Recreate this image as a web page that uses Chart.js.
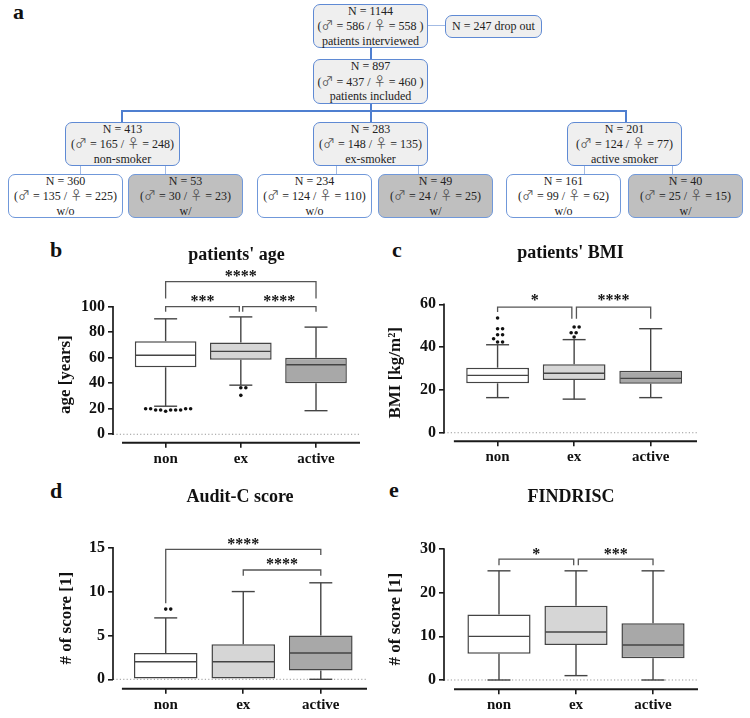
<!DOCTYPE html>
<html>
<head>
<meta charset="utf-8">
<title>smoking status</title>
<script src="https://cdn.jsdelivr.net/npm/chart.js@4.4.1/dist/chart.umd.min.js"></script>
<style>
body{margin:0;background:#fff;}
#fig{position:relative;width:750px;height:718px;font-family:"Liberation Serif","Times New Roman",serif;color:#222;overflow:hidden;}
.box{position:absolute;box-sizing:border-box;border:1.3px solid #5f8ad4;border-radius:7px;background:#efefef;display:flex;flex-direction:column;justify-content:center;align-items:center;font-size:12px;line-height:14.5px;text-align:center;white-space:nowrap;}
.box.wo{background:#fff;border-color:#7098da;}
.box.w{background:#bfbfbf;border-color:#7098da;}
.sym{font-family:"Noto Sans CJK SC",sans-serif;font-size:12px;color:#555;}
.ln{position:absolute;background:#4f7fd0;}
.lt{position:absolute;background:#a3bbe4;}
.lab{position:absolute;font-weight:bold;font-size:22px;line-height:22px;color:#111;}
canvas{position:absolute;}
</style>
</head>
<body>
<div id="fig">
  <div class="lab" style="left:13px;top:1px">a</div>
  <div class="lab" style="left:50px;top:239px">b</div>
  <div class="lab" style="left:392px;top:239px">c</div>
  <div class="lab" style="left:50px;top:480px">d</div>
  <div class="lab" style="left:389px;top:479px">e</div>
  <canvas id="chart-b" width="375" height="240" style="left:0;top:230px;width:375px;height:240px"></canvas>
  <canvas id="chart-c" width="375" height="240" style="left:375px;top:230px;width:375px;height:240px"></canvas>
  <canvas id="chart-d" width="375" height="248" style="left:0;top:470px;width:375px;height:248px"></canvas>
  <canvas id="chart-e" width="375" height="248" style="left:375px;top:470px;width:375px;height:248px"></canvas>
</div>
<script>
// flow chart numbers
var groupNames = ["non-smoker", "ex-smoker", "active smoker"];
var groupN = [413, 283, 201];
var groupMale = [165, 148, 124];
var groupFemale = [248, 135, 77];
var withoutN = [360, 234, 161];
var withoutMale = [135, 124, 99];
var withoutFemale = [225, 110, 62];
var withN = [53, 49, 40];
var withMale = [30, 24, 25];
var withFemale = [23, 25, 15];

// box plots
var categories = ["non", "ex", "active"];

var ageTicks = [0, 20, 40, 60, 80, 100];
var ageMin = [22, 38.5, 18.5];
var ageQ1 = [52.5, 58.5, 40];
var ageMedian = [62, 65, 54.5];
var ageQ3 = [73, 72, 60];
var ageMax = [90.5, 92, 84];
var ageOutliers = [[20, 20, 19, 20, 19, 20, 19, 19, 18, 19], [36.5, 36.5, 30.5], []];

var bmiTicks = [0, 20, 40, 60];
var bmiMin = [16.4, 15.7, 16.4];
var bmiQ1 = [23.1, 24.6, 22.9];
var bmiMedian = [26.8, 27.8, 25.4];
var bmiQ3 = [30.4, 32, 29];
var bmiMax = [41.1, 43.5, 48.6];
var bmiOutliers = [[53.6, 48.6, 48.6, 45.8, 45.8, 43.9, 42.4, 42.4], [49.4, 49.4, 46.7, 46.7, 44.7], []];

var auditTicks = [0, 5, 10, 15];
var auditMin = [0, 0, 0];
var auditQ1 = [0, 0, 1];
var auditMedian = [2, 2, 3];
var auditQ3 = [3, 4, 5];
var auditMax = [7, 10, 11];
var auditOutliers = [[8, 8], [], []];

var findTicks = [0, 10, 20, 30];
var findMin = [0, 1, 0];
var findQ1 = [6, 8, 5];
var findMedian = [10, 11, 8];
var findQ3 = [15, 17, 13];
var findMax = [25, 25, 25];
var findOutliers = [[], [], []];

var boxFill = ["#ffffff", "#d6d6d6", "#a8a8a8"];

// ---------- flow chart ----------
var fig = document.getElementById("fig");
function sex(m, f, sp) {
  return "(<span class='sym'>\u2642</span> = " + m + " / <span class='sym'>\u2640</span> = " + f + (sp ? " )" : ")");
}
function addBox(x, y, w, h, cls, lines) {
  var d = document.createElement("div");
  d.className = "box " + cls;
  d.style.cssText = "left:" + x + "px;top:" + y + "px;width:" + w + "px;height:" + h + "px";
  d.innerHTML = lines.map(function (t) { return "<div>" + t + "</div>"; }).join("");
  fig.appendChild(d);
}
function addLine(cls, x, y, w, h) {
  var d = document.createElement("div");
  d.className = cls;
  d.style.cssText = "left:" + x + "px;top:" + y + "px;width:" + w + "px;height:" + h + "px";
  fig.appendChild(d);
}

addLine("lt", 428, 25, 17, 1.4);
addLine("ln", 369.5, 48, 2, 11);
addLine("ln", 369.5, 104, 2, 18);
addLine("ln", 121, 110, 506, 2);
addLine("ln", 121, 110, 2, 12);
addLine("ln", 625, 110, 2, 12);
addBox(313, 4, 115, 44, "", ["N = 1144", sex(586, 558, true), "patients interviewed"]);
addBox(445, 15, 97, 23, "", ["N = 247 drop out"]);
addBox(313, 59, 115, 45, "", ["N = 897", sex(437, 460, true), "patients included"]);

var groupX = [65, 313, 567];
var woX = [8, 257, 506];
var wX = [128, 378, 628];
var linkX = [[80, 165], [336, 418], [584, 672]];
for (var i = 0; i < 3; i++) {
  addLine("lt", linkX[i][0], 166, 1.2, 8);
  addLine("lt", linkX[i][1], 166, 1.2, 8);
  addBox(groupX[i], 122, 115, 44, "", ["N = " + groupN[i], sex(groupMale[i], groupFemale[i]), groupNames[i]]);
  addBox(woX[i], 174, 115, 44, "wo", ["N = " + withoutN[i], sex(withoutMale[i], withoutFemale[i]), "w/o"]);
  addBox(wX[i], 174, 115, 44, "w", ["N = " + withN[i], sex(withMale[i], withFemale[i]), "w/"]);
}

// ---------- box plots ----------
Chart.defaults.font.family = '"Liberation Serif", "Times New Roman", serif';
Chart.defaults.color = "#111";

function swarm(pys, r) {
  var order = pys.map(function (v, i) { return i; }).sort(function (a, b) { return pys[b] - pys[a]; });
  var placed = [], dx = [];
  order.forEach(function (i) {
    for (var k = 0; k < 80; k++) {
      var off = (k % 2 ? 1 : -1) * Math.ceil(k / 2) * 1.0;
      var ok = placed.every(function (q) {
        var ddx = q.x - off, ddy = q.y - pys[i];
        return Math.sqrt(ddx * ddx + ddy * ddy) >= 2 * r + 0.9;
      });
      if (ok) { dx[i] = off; placed.push({ x: off, y: pys[i] }); break; }
    }
  });
  return dx;
}

function boxPlugin(p) {
  function seg(ctx, x1, y1, x2, y2) { ctx.beginPath(); ctx.moveTo(x1, y1); ctx.lineTo(x2, y2); ctx.stroke(); }
  return {
    id: "boxplot",
    beforeDatasetsDraw: function (chart) {
      var ctx = chart.ctx, a = chart.chartArea, y = chart.scales.y;
      var y0 = y.getPixelForValue(0);
      ctx.save();
      ctx.strokeStyle = "#999";
      ctx.lineWidth = 1;
      ctx.setLineDash([1.2, 2.2]);
      seg(ctx, a.left, y0, a.right, y0);
      ctx.restore();
    },
    afterDatasetsDraw: function (chart) {
      var ctx = chart.ctx, x = chart.scales.x, y = chart.scales.y;
      var bars = chart.getDatasetMeta(0).data;
      ctx.save();
      ctx.strokeStyle = "#444";
      ctx.lineWidth = 1.4;
      categories.forEach(function (c, i) {
        var cx = x.getPixelForValue(i), half = bars[i].width / 2;
        var top = y.getPixelForValue(p.max[i]), q3 = y.getPixelForValue(p.q3[i]);
        var q1 = y.getPixelForValue(p.q1[i]), bot = y.getPixelForValue(p.min[i]);
        seg(ctx, cx, q3, cx, top);
        seg(ctx, cx - 11.5, top, cx + 11.5, top);
        if (p.min[i] < p.q1[i]) {
          seg(ctx, cx, q1, cx, bot);
          seg(ctx, cx - 11.5, bot, cx + 11.5, bot);
        }
        var m = y.getPixelForValue(p.med[i]);
        seg(ctx, cx - half + 1, m, cx + half - 1, m);
        // outliers
        var pys = p.out[i].map(function (v) { return y.getPixelForValue(v); });
        var dx = swarm(pys, 1.8);
        ctx.fillStyle = "#111";
        pys.forEach(function (py, j) {
          ctx.beginPath();
          ctx.arc(cx + dx[j], py, 1.8, 0, Math.PI * 2);
          ctx.fill();
        });
      });
      ctx.restore();
    },
    afterDraw: function (chart) {
      var ctx = chart.ctx, a = chart.chartArea, x = chart.scales.x, y = chart.scales.y;
      ctx.save();
      ctx.strokeStyle = "#1a1a1a";
      ctx.lineWidth = 1.7;
      var ytop = y.getPixelForValue(p.ticks[p.ticks.length - 1]);
      seg(ctx, a.left, y.getPixelForValue(0) + 0.8, a.left, ytop - 0.8);
      ctx.lineWidth = 2;
      seg(ctx, x.getPixelForValue(p.geo.axisStart), a.bottom, a.right, a.bottom);
      // significance brackets
      ctx.strokeStyle = "#555";
      ctx.lineWidth = 1.3;
      ctx.fillStyle = "#111";
      ctx.font = "bold 16px " + Chart.defaults.font.family;
      ctx.textAlign = "center";
      ctx.textBaseline = "alphabetic";
      p.brackets.forEach(function (b) {
        var x1 = x.getPixelForValue(b.a), x2 = x.getPixelForValue(b.b), hy = y.getPixelForValue(b.y);
        ctx.beginPath();
        ctx.moveTo(x1, y.getPixelForValue(b.la));
        ctx.lineTo(x1, hy);
        ctx.lineTo(x2, hy);
        ctx.lineTo(x2, y.getPixelForValue(b.lb));
        ctx.stroke();
        ctx.fillText(b.t, (x1 + x2) / 2, y.getPixelForValue(b.ty) + 7.5);
      });
      ctx.restore();
    }
  };
}

function makeChart(p) {
  var g = p.geo;
  var data = categories.map(function (c, i) { return { x: i, y: [p.q1[i], p.q3[i]] }; });
  var grid = { display: true, drawOnChartArea: false, drawTicks: true, tickLength: 5, color: "#1a1a1a", lineWidth: 1.6, offset: false };
  return new Chart(document.getElementById(p.canvas), {
    type: "bar",
    data: {
      datasets: [{
        data: data,
        backgroundColor: boxFill,
        borderColor: "#444",
        borderWidth: 1.5,
        borderSkipped: false,
        barPercentage: 0.82,
        categoryPercentage: 1
      }]
    },
    options: {
      responsive: false,
      animation: false,
      events: [],
      layout: { padding: { left: 0, right: g.padRight, top: 0, bottom: 0 } },
      plugins: {
        legend: { display: false },
        tooltip: { enabled: false },
        title: {
          display: true, text: p.title, fullSize: false, color: "#111",
          font: { size: 18, weight: "bold" },
          padding: { top: g.titleTop, bottom: g.titleBottom }
        }
      },
      scales: {
        x: {
          type: "linear", offset: false, min: g.xMin, max: g.xMax,
          afterFit: function (s) { s.height = g.xHeight; },
          afterBuildTicks: function (s) { s.ticks = categories.map(function (c, i) { return { value: i }; }); },
          ticks: { callback: function (v) { return categories[v]; }, color: "#111", font: { size: 15, weight: "bold" }, padding: 2, autoSkip: false, maxRotation: 0 },
          grid: grid,
          border: { display: false }
        },
        y: {
          min: g.yMin, max: p.ticks[p.ticks.length - 1],
          afterFit: function (s) { s.width = g.yWidth; },
          afterBuildTicks: function (s) { s.ticks = p.ticks.map(function (v) { return { value: v }; }); },
          ticks: { color: "#111", font: { size: 16, weight: "bold" }, padding: 3 },
          grid: grid,
          border: { display: false },
          title: { display: true, text: p.yTitle, color: "#111", font: { size: 17, weight: "bold" }, padding: { top: g.yTitlePad, bottom: 0 } }
        }
      }
    },
    plugins: [boxPlugin(p)]
  });
}

makeChart({
  canvas: "chart-b", title: "patients' age", yTitle: "age [years]", ticks: ageTicks,
  min: ageMin, q1: ageQ1, med: ageMedian, q3: ageQ3, max: ageMax, out: ageOutliers,
  brackets: [
    { a: 0, b: 2, y: 119.6, la: 106.5, lb: 106.5, t: "****", ty: 126.2 },
    { a: 0, b: 0.98, y: 100, la: 96.1, lb: 96.1, t: "***", ty: 106.6 },
    { a: 1.025, b: 2, y: 100, la: 96.1, lb: 96.1, t: "****", ty: 106.6 }
  ],
  geo: { yWidth: 113, padRight: 15, titleTop: 14.2, titleBottom: 40.9, xHeight: 27.3, yMin: -6.6, xMin: -0.70, xMax: 2.585, axisStart: -0.58, yTitlePad: 55 }
});

makeChart({
  canvas: "chart-c", title: "patients' BMI", yTitle: "BMI [kg/m\u00b2]", ticks: bmiTicks,
  min: bmiMin, q1: bmiQ1, med: bmiMedian, q3: bmiQ3, max: bmiMax, out: bmiOutliers,
  brackets: [
    { a: 0, b: 0.97, y: 58.7, la: 56.4, lb: 53.3, t: "*", ty: 63.4 },
    { a: 1.03, b: 2, y: 58.7, la: 53.3, lb: 53.3, t: "****", ty: 63.4 }
  ],
  geo: { yWidth: 69, padRight: 53, titleTop: 12.2, titleBottom: 40.5, xHeight: 28.7, yMin: -4.0, xMin: -0.70, xMax: 2.605, axisStart: -0.571, yTitlePad: 10 }
});

makeChart({
  canvas: "chart-d", title: "Audit-C score", yTitle: "# of score [1]", ticks: auditTicks,
  min: auditMin, q1: auditQ1, med: auditMedian, q3: auditQ3, max: auditMax, out: auditOutliers,
  brackets: [
    { a: 0, b: 2, y: 14.82, la: 8.66, lb: 14.17, t: "****", ty: 15.76 },
    { a: 1, b: 2, y: 12.46, la: 11.8, lb: 11.8, t: "****", ty: 13.4 }
  ],
  geo: { yWidth: 113, padRight: 8, titleTop: 16.2, titleBottom: 39.9, xHeight: 29.3, yMin: -1.07, xMin: -0.68, xMax: 2.596, axisStart: -0.565, yTitlePad: 56 }
});

makeChart({
  canvas: "chart-e", title: "FINDRISC", yTitle: "# of score [1]", ticks: findTicks,
  min: findMin, q1: findQ1, med: findMedian, q3: findQ3, max: findMax, out: findOutliers,
  brackets: [
    { a: 0, b: 0.97, y: 27.7, la: 26.3, lb: 26.3, t: "*", ty: 29.4 },
    { a: 1.03, b: 2, y: 27.7, la: 26.3, lb: 26.3, t: "***", ty: 29.4 }
  ],
  geo: { yWidth: 69, padRight: 52, titleTop: 16.2, titleBottom: 41.2, xHeight: 28.7, yMin: -2.13, xMin: -0.714, xMax: 2.584, axisStart: -0.584, yTitlePad: 10 }
});
</script>
</body>
</html>
